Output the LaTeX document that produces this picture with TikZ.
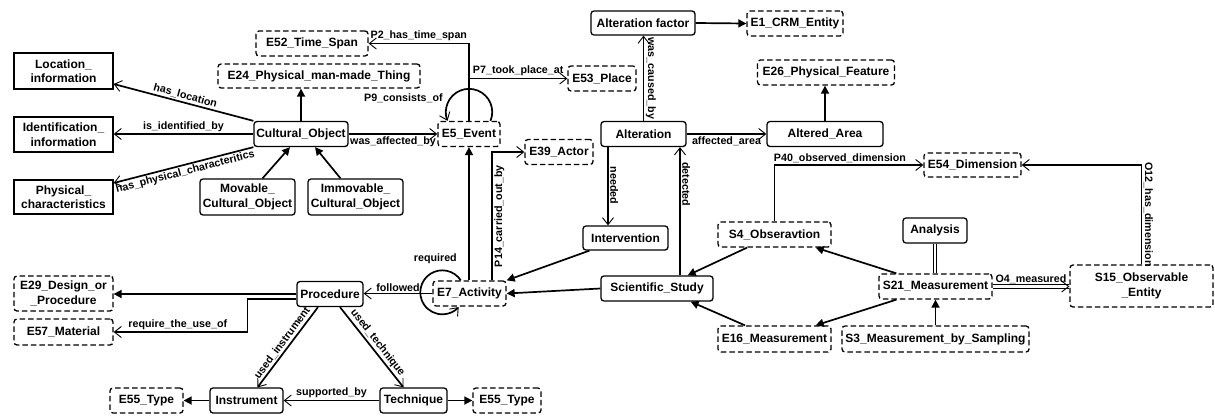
\documentclass[tikz,border=0pt]{standalone}
\usepackage{fontspec}
\setmainfont{Liberation Sans}
\usetikzlibrary{arrows.meta,calc}
\newcommand{\nodefnt}{\fontsize{12}{14.5}\selectfont\bfseries}
\newcommand{\lblfnt}{\fontsize{10.7}{12}\selectfont\bfseries}
\begin{document}
\begin{tikzpicture}[x=1pt,y=-1pt,
  box/.style={draw, line width=1.3pt, rounded corners=3pt, font=\nodefnt, align=center, inner sep=1pt},
  sqbox/.style={box, sharp corners},
  dbox/.style={box, dash pattern=on 5.5pt off 3pt},
  con/.style={line width=1.7pt},
  opn/.style={con, -{Straight Barb[length=7pt,width=11pt,line width=0.9pt]}},
  isa/.style={con, -{Triangle[length=8pt,width=8pt]}},
  lbl/.style={font=\lblfnt, inner sep=1.5pt},
  dbl/.style={double, double distance=2.4pt, line width=1.1pt},
]
\useasboundingbox (0,0) rectangle (1215,415);

% nodes
\node[sqbox, minimum width=99pt, minimum height=36pt] (loc) at (63.5,71) {Location\_\\information};
\node[sqbox, minimum width=99pt, minimum height=35pt] (ident) at (63.5,134.5) {Identification\_\\information};
\node[sqbox, minimum width=99pt, minimum height=34pt] (phys) at (63.5,197) {Physical\_\\characteristics};
\node[dbox, minimum width=112pt, minimum height=25pt] (e52) at (312,43.5) {E52\_Time\_Span};
\node[dbox, minimum width=202pt, minimum height=24pt] (e24) at (319,76) {E24\_Physical\_man-made\_Thing};
\node[box, minimum width=94pt, minimum height=25pt] (co) at (301,134) {Cultural\_Object};
\node[box, minimum width=95pt, minimum height=36pt] (mov) at (247.5,197) {Movable\_\\Cultural\_Object};
\node[box, minimum width=95pt, minimum height=36pt] (imm) at (355.5,197) {Immovable\_\\Cultural\_Object};
\node[dbox, minimum width=62pt, minimum height=25pt] (e5) at (469,134) {E5\_Event};
\node[dbox, minimum width=68pt, minimum height=25pt] (e53) at (602,78.5) {E53\_Place};
\node[dbox, minimum width=68pt, minimum height=25pt] (e39) at (559,152) {E39\_Actor};
\node[box, minimum width=104pt, minimum height=24pt] (af) at (643,23) {Alteration factor};
\node[dbox, minimum width=96pt, minimum height=25pt] (e1) at (795,23.5) {E1\_CRM\_Entity};
\node[box, minimum width=85pt, minimum height=25pt] (alt) at (643.5,134) {Alteration};
\node[box, minimum width=116pt, minimum height=25pt] (aa) at (825,134) {Altered\_Area};
\node[dbox, minimum width=137pt, minimum height=25pt] (e26) at (826,72.5) {E26\_Physical\_Feature};
\node[dbox, minimum width=97pt, minimum height=24pt] (e54) at (972.5,165) {E54\_Dimension};
\node[dbox, minimum width=73pt, minimum height=25pt] (e7) at (469.5,293.5) {E7\_Activity};
\node[box, minimum width=66pt, minimum height=25pt] (proc) at (330,294) {Procedure};
\node[dbox, minimum width=99pt, minimum height=35pt] (e29) at (63.5,293.5) {E29\_Design\_or\\\_Procedure};
\node[dbox, minimum width=99pt, minimum height=26pt] (e57) at (63.5,332) {E57\_Material};
\node[dbox, minimum width=73pt, minimum height=25pt] (e55a) at (146.5,400.5) {E55\_Type};
\node[box, minimum width=73pt, minimum height=25pt] (inst) at (246.5,400.5) {Instrument};
\node[box, minimum width=67pt, minimum height=25pt] (tech) at (413.5,400.5) {Technique};
\node[dbox, minimum width=68pt, minimum height=25pt] (e55b) at (507,400.5) {E55\_Type};
\node[box, minimum width=85pt, minimum height=24pt] (interv) at (625.5,238) {Intervention};
\node[box, minimum width=112pt, minimum height=25pt] (sci) at (657,288.5) {Scientific\_Study};
\node[dbox, minimum width=113pt, minimum height=25pt] (s4) at (774.5,234.5) {S4\_Obseravtion};
\node[dbox, minimum width=113pt, minimum height=26pt] (e16) at (774.5,339) {E16\_Measurement};
\node[box, minimum width=64pt, minimum height=25pt] (anal) at (935,230.5) {Analysis};
\node[dbox, minimum width=113pt, minimum height=25pt] (s21) at (935.5,286.5) {S21\_Measurement};
\node[dbox, minimum width=187pt, minimum height=26pt] (s3) at (935.5,339) {S3\_Measurement\_by\_Sampling};
\node[dbox, minimum width=143pt, minimum height=42pt] (s15) at (1141.5,286) {S15\_Observable\\\_Entity};

% helper end points
\coordinate (cLoc) at ($(loc.east)+(0,13)$);
\coordinate (cPhys) at ($(phys.east)+(0,-14)$);
\coordinate (cNeed) at ($(alt.south)+(-35.5,0)$);
\coordinate (cDet) at ($(sci.north)+(23,0)$);
\coordinate (cInstA) at ($(proc.south)+(-12,0)$);
\coordinate (cInstB) at ($(inst.north)+(11,0)$);
\coordinate (cTechA) at ($(proc.south)+(10,0)$);
\coordinate (cTechB) at ($(tech.north)+(-10,0)$);
\coordinate (cO4) at (s21.east -| s15.west);

% Cultural object relations
\draw[opn] (co.north west) -- node[lbl, rotate=-15.6, anchor=south] {has\_location} (cLoc);
\draw[opn] (co.west) -- node[lbl, above] {is\_identified\_by} (co.west -| ident.east);
\draw[opn] (co.south west) -- node[lbl, rotate=14.5, anchor=north] {has\_physical\_characteritics} (cPhys);
\draw[isa] (co.north) -- (co.north |- e24.south);
\draw[isa] ($(mov.north)+(15,0)$) -- ($(co.south)+(-11,0)$);
\draw[isa] ($(imm.north)+(-15,0)$) -- ($(co.south)+(14,0)$);
\draw[opn] (co.east) -- node[lbl, below] {was\_affected\_by} (e5.west);

% Event relations
\draw[opn] (e5.north) |- node[lbl, above, pos=0.75] {P2\_has\_time\_span} (e52.east);
\draw[opn] (e5.north |- e53.west) -- node[lbl, above] {P7\_took\_place\_at} (e53.west);
\draw[opn] ($(e5.north)+(21.5,0)$) arc[start angle=-22.3, end angle=202.3, radius=23.2pt];
\node[lbl, anchor=east] (p9) at ($(e5.north west)+(7,-23)$) {P9\_consists\_of};

% Activity relations
\draw[isa] (e5.south |- e7.north) -- (e5.south);
\draw[opn] ($(e7.north)+(22.5,0)$) |- node[lbl, rotate=90, anchor=north, pos=0.25] {P14\_carried\_out\_by} (e39.west);
\draw[opn] ($(e7.north west)+(28.4,0)$) arc[start angle=33, end angle=318, radius=22pt];
\node[lbl] (req) at ($(e7.north west)+(3,-22)$) {required};
\draw[opn] (e7.west) -- node[lbl, above] {followed} (e7.west -| proc.east);

% Procedure relations
\draw[isa] (proc.west) -- (proc.west -| e29.east);
\draw[opn] ($(proc.west)+(0,5)$) -- ($(proc.west)+(-49,5)$) |- node[lbl, above, pos=0.76] {require\_the\_use\_of} (e57.east);
\draw[opn] (cInstA) -- node[lbl, rotate=53.4, anchor=south] {used\_instrument} (cInstB);
\draw[opn] (cTechA) -- node[lbl, rotate=-52.1, anchor=south] {used\_technique} (cTechB);
\draw[opn] (tech.west) -- node[lbl, above] {supported\_by} (inst.east);
\draw[isa] (inst.west) -- (e55a.east);
\draw[isa] (tech.east) -- (e55b.west);

% Alteration relations
\draw[isa] ($(interv.south west)+(7,0)$) -- (e7.north east);
\draw[isa] (sci.west) -- (e7.east);
\draw[opn] (cNeed) -- node[lbl, rotate=-90, anchor=south, pos=0.49] {needed} (cNeed |- interv.north);
\draw[opn] (cDet) -- node[lbl, rotate=-90, anchor=south, pos=0.71] {detected} (cDet |- alt.south);
\draw[opn] (alt.north) -- node[lbl, rotate=-90, anchor=south, pos=0.5] {was\_caused\_by} (alt.north |- af.south);
\draw[isa] (af.east) -- (e1.west);
\draw[opn] (alt.east) -- node[lbl, below] {affected\_area} (aa.west);
\draw[isa] (aa.north) -- (aa.north |- e26.south);

% Measurement relations
\draw[isa] ($(s4.south)+(-27.5,0)$) -- ($(sci.north east)+(-26,0)$);
\draw[isa] ($(e16.north)+(-29.5,0)$) -- ($(sci.south east)+(-23,0)$);
\draw[opn] (s4.north) |- node[lbl, above, pos=0.72] {P40\_observed\_dimension} (e54.west);
\draw[opn] (s15.north) |- node[lbl, rotate=-90, anchor=south, pos=0.25] {O12\_has\_dimension} (e54.east);
\draw[dbl] (anal.south) -- (anal.south |- s21.north);
\draw[isa] ($(s21.north west)+(18,0)$) -- ($(s4.south east)+(-16,0)$);
\draw[isa] ($(s21.south west)+(18,0)$) -- ($(e16.north east)+(-16,0)$);
\draw[isa] (s3.north) -- (s3.north |- s21.south);
\draw[dbl] (s21.east) -- node[lbl, above=1pt] {O4\_measured} (cO4);
\draw[-{Straight Barb[length=7pt,width=11pt]}, line width=0.9pt] ($(cO4)+(-1,0)$) -- (cO4);
\end{tikzpicture}
\end{document}
